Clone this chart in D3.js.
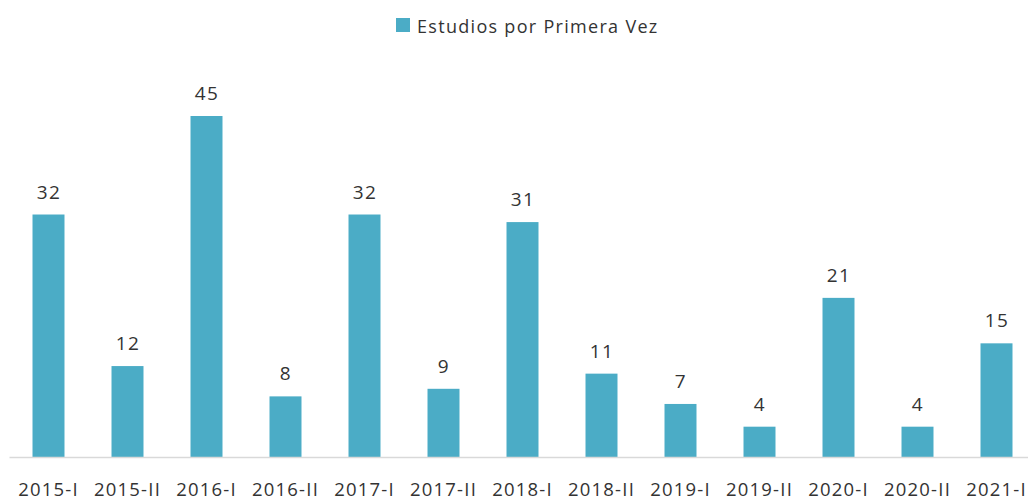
<!DOCTYPE html>
<html>
<head>
<meta charset="utf-8">
<script src="https://cdn.jsdelivr.net/npm/d3@7"></script>
<style>
  body { margin: 0; background: #fff; }
  text { font-family: "Open Sans", sans-serif; fill: #262626; }
</style>
</head>
<body>
<div id="chart"></div>
<script>
// data
const periods = ["2015-I", "2015-II", "2016-I", "2016-II", "2017-I", "2017-II", "2018-I",
    "2018-II", "2019-I", "2019-II", "2020-I", "2020-II", "2021-I"];
const estudios = [32, 12, 45, 8, 32, 9, 31, 11, 7, 4, 21, 4, 15];
const seriesName = "Estudios por Primera Vez";

const width = 1028, height = 500;
const barColor = "#4BACC6";

const svg = d3.select("#chart").append("svg")
    .attr("width", width)
    .attr("height", height);

// scales
const x = d3.scaleBand().domain(periods).range([9, 1036]).padding(0);
const y = d3.scaleLinear().domain([0, 45]).range([457, 116]);
const barW = x.bandwidth() * 0.405;

// bars
svg.selectAll("rect.bar")
    .data(estudios)
    .enter().append("rect")
    .attr("class", "bar")
    .attr("x", (d, i) => x(periods[i]) + (x.bandwidth() - barW) / 2)
    .attr("y", d => y(d))
    .attr("width", barW)
    .attr("height", d => y(0) - y(d))
    .attr("fill", barColor);

// value labels
svg.selectAll("text.val")
    .data(estudios)
    .enter().append("text")
    .attr("class", "val")
    .attr("x", (d, i) => x(periods[i]) + x.bandwidth() / 2 + 0.5)
    .attr("y", d => y(d) - 16)
    .attr("text-anchor", "middle")
    .style("font-size", "19px")
    .style("letter-spacing", "1.5px")
    .style("fill", "#333")
    .text(d => d);

// baseline axis
const xAxis = d3.axisBottom(x).tickSize(0).tickPadding(26);
const gx = svg.append("g")
    .attr("transform", `translate(0,${y(0)})`)
    .call(xAxis);
gx.select(".domain").attr("stroke", "#d9d9d9").attr("stroke-width", 1.5);
gx.selectAll("text")
    .style("font-size", "18.5px")
    .style("letter-spacing", "1.2px")
    .style("font-family", "'Open Sans', sans-serif")
    .style("fill", "#333");

// legend
const legend = svg.append("g").attr("transform", "translate(396,18)");
legend.append("rect").attr("width", 14).attr("height", 14).attr("fill", barColor);
legend.append("text")
    .attr("x", 21)
    .attr("y", 15)
    .style("font-size", "18px")
    .style("letter-spacing", "1.3px")
    .style("fill", "#333")
    .text(seriesName);
</script>
</body>
</html>
